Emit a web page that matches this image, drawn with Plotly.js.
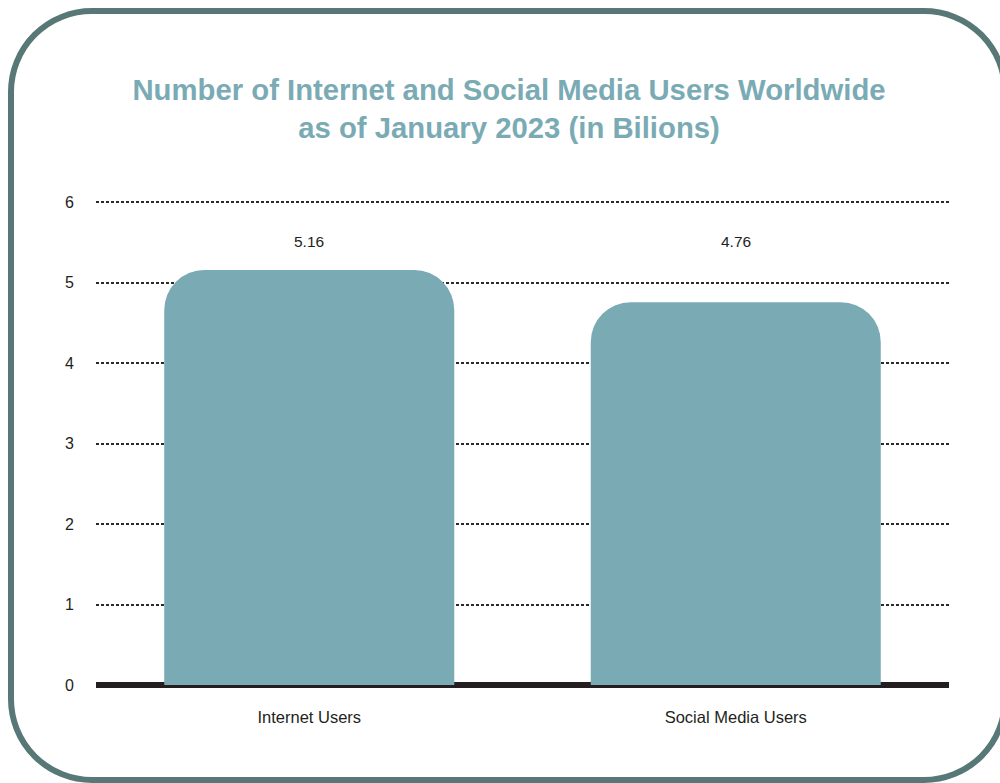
<!DOCTYPE html>
<html>
<head>
<meta charset="utf-8">
<script src="https://cdn.plot.ly/plotly-3.0.1.min.js"></script>
<style>
  html, body { margin: 0; padding: 0; background: #ffffff; overflow: hidden; }
  #frame { position: absolute; left: 8px; top: 8px; width: 988px; height: 763px;
           border: 6px solid #587877; border-radius: 84px; box-sizing: content-box; }
  #chart { position: absolute; left: 0; top: 0; width: 1000px; height: 783px; }
</style>
</head>
<body>
<div id="frame"></div>
<div id="chart"></div>
<script>
const categories = ["Internet Users", "Social Media Users"];
const users = [5.16, 4.76];
const valueLabels = ["5.16", "4.76"];
const yTicks = [0, 1, 2, 3, 4, 5, 6];

const trace = {
  type: "bar",
  x: categories,
  y: users,
  marker: { color: "#7aabb5", cornerradius: 40 },
  hoverinfo: "x+y"
};

const annotations = categories.map((c, i) => ({
  x: c, y: 5.52, xref: "x", yref: "y",
  text: valueLabels[i], showarrow: false,
  font: { family: "Liberation Sans, Arial, sans-serif", size: 15.5, color: "#231f20" }
}));

const layout = {
  width: 1000, height: 783,
  paper_bgcolor: "rgba(0,0,0,0)",
  plot_bgcolor: "rgba(0,0,0,0)",
  margin: { l: 96, r: 51, t: 200, b: 98 },
  bargap: 0.32,
  showlegend: false,
  title: {
    text: "<b>Number of Internet and Social Media Users Worldwide<br>as of January 2023 (in Bilions)</b>",
    x: 0.509, xanchor: "center", y: 0.872, yanchor: "middle",
    font: { family: "Liberation Sans, Arial, sans-serif", size: 29.3, color: "#7aabb5" }
  },
  xaxis: {
    showgrid: false, showline: false, zeroline: false,
    ticks: "", ticklabelstandoff: 20,
    tickfont: { family: "Liberation Sans, Arial, sans-serif", size: 16.5, color: "#231f20" }
  },
  yaxis: {
    range: [0, 6.03], tickvals: yTicks, ticktext: yTicks.map(String),
    showgrid: true, gridcolor: "#2a2a2a", gridwidth: 2, griddash: "3px,2px",
    zeroline: true, zerolinecolor: "#231f20", zerolinewidth: 6,
    showline: false, ticks: "", ticklabelstandoff: 21,
    tickfont: { family: "Liberation Sans, Arial, sans-serif", size: 16, color: "#231f20" }
  },
  annotations: annotations
};

Plotly.newPlot("chart", [trace], layout, { displayModeBar: false, staticPlot: true });
</script>
</body>
</html>
